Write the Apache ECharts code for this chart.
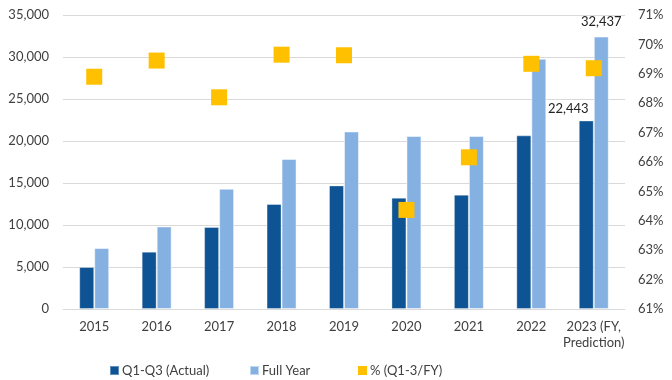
<!DOCTYPE html>
<html><head><meta charset="utf-8">
<script src="https://cdn.jsdelivr.net/npm/echarts@6/dist/echarts.min.js"></script>
<style>html,body{margin:0;padding:0;background:#fff}#c{width:672px;height:380px}</style>
</head><body><div id="c"></div>
<script>
const categories = ['2015','2016','2017','2018','2019','2020','2021','2022','2023 (FY,\nPrediction)'];
const q1q3 = [5000, 6820, 9760, 12500, 14710, 13250, 13610, 20670, 22443];
const fullYear = [7260, 9830, 14320, 17860, 21140, 20600, 20600, 29800, 32437];
const pct = [0.689, 0.6945, 0.682, 0.6965, 0.6963, 0.6437, 0.6616, 0.6934, 0.6919];
const seriesNames = ['Q1-Q3 (Actual)', 'Full Year', '% (Q1-3/FY)'];
const leftTicks = {min: 0, max: 35000, interval: 5000};
const rightTicks = {min: 0.61, max: 0.71, interval: 0.01};

function comma(v){ return String(Math.round(v)).replace(/\B(?=(\d{3})+(?!\d))/g, ','); }
const FONT = 'Lato';
const TXT = '#404040';
const last = categories.length - 1;
const legendLefts = [104, 244, 353];

const chart = echarts.init(document.getElementById('c'), null, {renderer: 'canvas'});
chart.setOption({
  animation: false,
  textStyle: {fontFamily: FONT, color: TXT},
  grid: {left: 63, right: 47, top: 15, bottom: 71, containLabel: false},
  legend: seriesNames.map((n, i) => ({
    left: legendLefts[i], top: 359, itemWidth: 9, itemHeight: 9, icon: 'rect',
    textStyle: {fontFamily: FONT, fontSize: 13, color: TXT, padding: [0,0,0,-2]},
    data: [n]
  })),
  xAxis: {
    type: 'category', data: categories,
    axisLine: {lineStyle: {color: '#d9d9d9'}},
    axisTick: {show: false},
    axisLabel: {fontFamily: FONT, fontSize: 13, color: TXT, margin: 10, lineHeight: 16, interval: 0}
  },
  yAxis: [
    {type: 'value', min: leftTicks.min, max: leftTicks.max, interval: leftTicks.interval,
     axisLine: {show: false}, axisTick: {show: false},
     splitLine: {lineStyle: {color: '#d9d9d9'}},
     axisLabel: {fontFamily: FONT, fontSize: 13, color: TXT, margin: 14, formatter: v => comma(v)}},
    {type: 'value', min: rightTicks.min, max: rightTicks.max, interval: rightTicks.interval,
     axisLine: {show: false}, axisTick: {show: false}, splitLine: {show: false},
     axisLabel: {fontFamily: FONT, fontSize: 13, color: TXT, margin: 13,
       formatter: v => Math.round(v * 100) + '%'}}
  ],
  series: [
    {name: seriesNames[0], type: 'bar', barWidth: 15, barGap: '0%',
     itemStyle: {color: '#0E5394', borderColor: 'rgba(255,255,255,0.35)', borderWidth: 1},
     data: q1q3.map((v, i) => i === last ? {value: v, label: {show: true, position: 'top', distance: 5, offset: [-18, 0],
        formatter: p => comma(p.value), fontFamily: FONT, fontSize: 13, color: '#222'}} : v)},
    {name: seriesNames[1], type: 'bar', barWidth: 15,
     itemStyle: {color: '#85B1E2', borderColor: 'rgba(255,255,255,0.5)', borderWidth: 1},
     data: fullYear.map((v, i) => i === last ? {value: v, label: {show: true, position: 'top', distance: 8,
        formatter: p => comma(p.value), fontFamily: FONT, fontSize: 13, color: '#222'}} : v)},
    {name: seriesNames[2], type: 'scatter', yAxisIndex: 1, symbol: 'rect', symbolSize: 16, z: 5,
     itemStyle: {color: '#FFC000', opacity: 1}, data: pct}
  ]
});
</script></body></html>
